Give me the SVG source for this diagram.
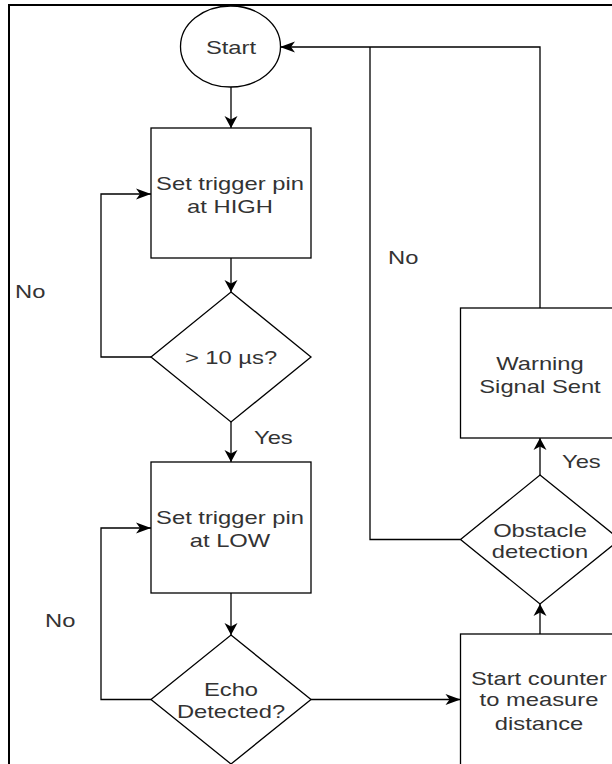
<svg xmlns="http://www.w3.org/2000/svg" width="612" height="764" viewBox="0 0 612 764">
<defs>
<style>
.shape{fill:#ffffff;stroke:#000000;stroke-width:1.3}
.edge{fill:none;stroke:#000000;stroke-width:1.3}
.frame{fill:none;stroke:#000000;stroke-width:2}
text{font-family:"Liberation Sans",Arial,Helvetica,sans-serif;font-size:19px;fill:#333333}
.c{text-anchor:middle}
</style>
<marker id="arrV" markerUnits="userSpaceOnUse" markerWidth="20" markerHeight="20" viewBox="-18 -10 20 20" refX="0" refY="0" orient="auto">
<path d="M0,0 L-12,-6.5 L-8.5,0 L-12,6.5 Z" fill="#000000"/>
</marker>
<marker id="arrH" markerUnits="userSpaceOnUse" markerWidth="20" markerHeight="20" viewBox="-18 -10 20 20" refX="0" refY="0" orient="auto">
<path d="M0,0 L-15,-5.5 L-11,0 L-15,5.5 Z" fill="#000000"/>
</marker>
</defs>
<rect width="612" height="764" fill="#ffffff"/>
<path class="frame" d="M9,764 V5 H612"/>
<g id="connectors">
<path class="edge" d="M231,87 V128" marker-end="url(#arrV)"/>
<path class="edge" d="M231,258 V292" marker-end="url(#arrV)"/>
<path class="edge" d="M151,357 H101 V194 H151" marker-end="url(#arrH)"/>
<path class="edge" d="M231,422 V462" marker-end="url(#arrV)"/>
<path class="edge" d="M231,593 V635" marker-end="url(#arrV)"/>
<path class="edge" d="M151,699.5 H101 V528 H151" marker-end="url(#arrH)"/>
<path class="edge" d="M311,699.5 H460.5" marker-end="url(#arrH)"/>
<path class="edge" d="M540,634 V604" marker-end="url(#arrV)"/>
<path class="edge" d="M540,475 V438" marker-end="url(#arrV)"/>
<path class="edge" d="M540,308 V47 H280" marker-end="url(#arrH)"/>
<path class="edge" d="M460.5,539.5 H370 V47"/>
<text transform="translate(15,298) scale(1.25,1)">No</text>
<text transform="translate(45,627) scale(1.25,1)">No</text>
<text transform="translate(388,264) scale(1.25,1)">No</text>
<text transform="translate(254,444) scale(1.25,1)">Yes</text>
<text transform="translate(562,468) scale(1.25,1)">Yes</text>
</g>
<g id="start">
<ellipse class="shape" cx="230.5" cy="46.5" rx="50" ry="40.5"/>
<text class="c" transform="translate(231,53.5) scale(1.25,1)">Start</text>
</g>
<g id="set-high">
<rect class="shape" x="151" y="128" width="160" height="130"/>
<text class="c" transform="translate(230,190) scale(1.25,1)">Set trigger pin</text>
<text class="c" transform="translate(230,213) scale(1.25,1)">at HIGH</text>
</g>
<g id="check-10us">
<polygon class="shape" points="231,292 311,357 231,422 151,357"/>
<text class="c" transform="translate(231,364) scale(1.25,1)">&gt; 10 µs?</text>
</g>
<g id="set-low">
<rect class="shape" x="151" y="462" width="160" height="131"/>
<text class="c" transform="translate(230,524) scale(1.25,1)">Set trigger pin</text>
<text class="c" transform="translate(230,547) scale(1.25,1)">at LOW</text>
</g>
<g id="echo">
<polygon class="shape" points="231,635 311,699.5 231,764 151,699.5"/>
<text class="c" transform="translate(231,696) scale(1.25,1)">Echo</text>
<text class="c" transform="translate(231,718) scale(1.25,1)">Detected?</text>
</g>
<g id="counter">
<rect class="shape" x="460.5" y="634" width="160" height="200"/>
<text class="c" transform="translate(539,685) scale(1.25,1)">Start counter</text>
<text class="c" transform="translate(539,706) scale(1.25,1)">to measure</text>
<text class="c" transform="translate(539,730) scale(1.25,1)">distance</text>
</g>
<g id="obstacle">
<polygon class="shape" points="540,475 620,539.5 540,604 460.5,539.5"/>
<text class="c" transform="translate(540,537) scale(1.25,1)">Obstacle</text>
<text class="c" transform="translate(540,558) scale(1.25,1)">detection</text>
</g>
<g id="warning">
<rect class="shape" x="460.5" y="308" width="160" height="130"/>
<text class="c" transform="translate(540,370) scale(1.25,1)">Warning</text>
<text class="c" transform="translate(540,393) scale(1.25,1)">Signal Sent</text>
</g>
</svg>
